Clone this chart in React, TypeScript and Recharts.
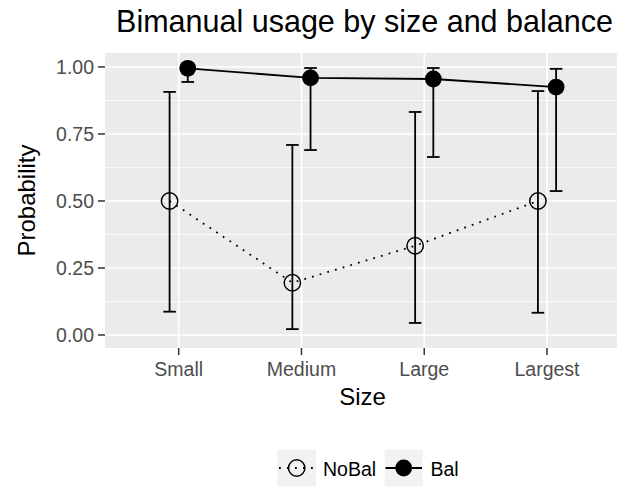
import React from 'react';
import { ComposedChart, Line, XAxis, YAxis, CartesianGrid, ErrorBar } from 'recharts';

const categories = ['Small', 'Medium', 'Large', 'Largest'];
const noBalMean = [0.5, 0.195, 0.333, 0.5];
const noBalLow = [0.087, 0.022, 0.045, 0.083];
const noBalHigh = [0.907, 0.709, 0.832, 0.91];
const balMean = [0.995, 0.959, 0.955, 0.925];
const balLow = [0.944, 0.69, 0.664, 0.537];
const balHigh = [1.0, 0.996, 0.996, 0.993];
const yTicks = [0, 0.25, 0.5, 0.75, 1];
const yMinor = [0.125, 0.375, 0.625, 0.875];

const DODGE = 0.074;
const FONT = '"Liberation Sans", Arial, Helvetica, sans-serif';

const build = (mean: number[], low: number[], high: number[], off: number) =>
  categories.map((c, i) => ({
    x: i + 1 + off,
    cat: c,
    y: mean[i],
    err: [mean[i] - low[i], high[i] - mean[i]],
  }));

const noBalData = build(noBalMean, noBalLow, noBalHigh, -DODGE);
const balData = build(balMean, balLow, balHigh, DODGE);

const OpenDot = (p: any) => {
  if (p.cx == null || p.cy == null) return null;
  return <circle key={`o${p.index}`} cx={p.cx} cy={p.cy} r={8.2} fill="none" stroke="#000" strokeWidth={1.5} />;
};
const FilledDot = (p: any) => {
  if (p.cx == null || p.cy == null) return null;
  return <circle key={`f${p.index}`} cx={p.cx} cy={p.cy} r={8.4} fill="#000" stroke="none" />;
};

export default function App() {
  return (
    <div style={{ position: 'absolute', left: 0, top: 0, width: 617, height: 488, overflow: 'hidden' }}>
      <ComposedChart width={617} height={488} margin={{ top: 53, right: 0, bottom: 0, left: 0 }}>
        <CartesianGrid
          fill="#EBEBEB"
          fillOpacity={1}
          stroke="#FFFFFF"
          strokeWidth={0.8}
          vertical={false}
          horizontalValues={yMinor}
        />
        <CartesianGrid
          stroke="#FFFFFF"
          strokeWidth={1.6}
          horizontalValues={yTicks}
          verticalValues={[1, 2, 3, 4]}
        />
        <XAxis
          type="number"
          dataKey="x"
          domain={[0.4, 4.57]}
          allowDataOverflow
          ticks={[1, 2, 3, 4]}
          tickFormatter={(v: number) => categories[Math.round(v) - 1] ?? ''}
          height={140}
          axisLine={false}
          tickLine={{ stroke: '#333333', strokeWidth: 1.5 }}
          tickSize={7}
          tickMargin={7}
          tick={{ fill: '#4D4D4D', fontSize: 19.5, fontFamily: FONT }}
          interval={0}
        />
        <YAxis
          type="number"
          domain={[-0.0485, 1.052]}
          allowDataOverflow
          ticks={yTicks}
          tickFormatter={(v: number) => v.toFixed(2)}
          width={105}
          axisLine={false}
          tickLine={{ stroke: '#333333', strokeWidth: 1.5 }}
          tickSize={7}
          tickMargin={4}
          tick={{ fill: '#4D4D4D', fontSize: 19.5, fontFamily: FONT }}
          interval={0}
        />
        <Line
          data={noBalData}
          dataKey="y"
          type="linear"
          stroke="#000"
          strokeWidth={1.8}
          strokeDasharray="1.8 6.2"
          dot={OpenDot}
          activeDot={false}
          isAnimationActive={false}
        >
          <ErrorBar dataKey="err" direction="y" width={6.3} stroke="#000" strokeWidth={1.8} />
        </Line>
        <Line
          data={balData}
          dataKey="y"
          type="linear"
          stroke="#000"
          strokeWidth={1.8}
          dot={FilledDot}
          activeDot={false}
          isAnimationActive={false}
        >
          <ErrorBar dataKey="err" direction="y" width={6.3} stroke="#000" strokeWidth={1.8} />
        </Line>
      </ComposedChart>
      <svg
        width={617}
        height={488}
        style={{ position: 'absolute', left: 0, top: 0, pointerEvents: 'none' }}
        fontFamily={FONT}
      >
        <text x={364.5} y={32} textAnchor="middle" fontSize={30.5} fill="#000">
          Bimanual usage by size and balance
        </text>
        <text x={362.5} y={405} textAnchor="middle" fontSize={24} fill="#000">
          Size
        </text>
        <text
          x={35}
          y={200.5}
          textAnchor="middle"
          fontSize={24}
          fill="#000"
          transform="rotate(-90, 35, 200.5)"
        >
          Probability
        </text>
        <rect x={277.3} y={449.5} width={38.7} height={37} fill="#F2F2F2" />
        <line x1={279} y1={468} x2={315} y2={468} stroke="#000" strokeWidth={1.8} strokeDasharray="1.8 6.2" />
        <circle cx={296.7} cy={468} r={8.2} fill="none" stroke="#000" strokeWidth={1.5} />
        <text x={323} y={476} fontSize={19.5} fill="#000">NoBal</text>
        <rect x={384.7} y={449.5} width={38} height={37} fill="#F2F2F2" />
        <line x1={385.5} y1={468} x2={422} y2={468} stroke="#000" strokeWidth={1.8} />
        <circle cx={403.7} cy={468} r={8.4} fill="#000" />
        <text x={430.5} y={476} fontSize={19.5} fill="#000">Bal</text>
      </svg>
    </div>
  );
}
